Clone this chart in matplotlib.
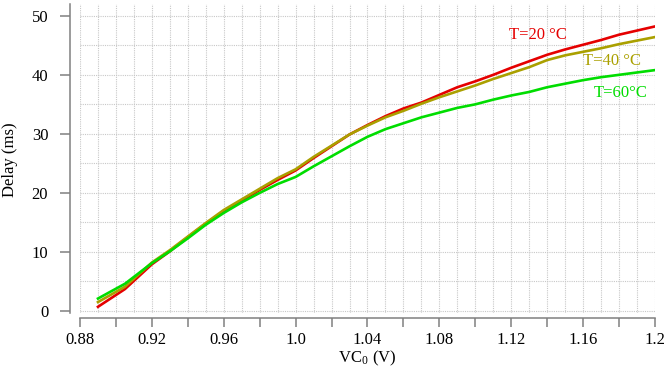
import matplotlib.pyplot as plt
import numpy as np

plt.rcParams["font.family"] = ["Liberation Serif", "DejaVu Serif"]
plt.rcParams["mathtext.fontset"] = "stix"

# VC0 (V)
vc0 = [0.89, 0.905, 0.92, 0.93, 0.94, 0.95, 0.96, 0.97, 0.98, 0.99, 1.00,
       1.01, 1.02, 1.03, 1.04, 1.05, 1.06, 1.07, 1.08, 1.09, 1.10,
       1.11, 1.12, 1.13, 1.14, 1.15, 1.16, 1.17, 1.18, 1.19, 1.20]

# Delay (ms)
delay_20 = [0.7, 3.7, 7.9, 10.1, 12.5, 14.8, 16.9, 18.7, 20.5, 22.2, 23.8,
            25.9, 27.9, 29.9, 31.5, 33.0, 34.3, 35.3, 36.6, 37.9, 38.9,
            40.0, 41.2, 42.3, 43.4, 44.3, 45.1, 45.9, 46.8, 47.5, 48.2]
delay_40 = [1.5, 4.1, 8.2, 10.3, 12.6, 14.9, 17.1, 18.9, 20.7, 22.5, 24.0,
            26.1, 28.0, 29.9, 31.4, 32.8, 33.9, 35.1, 36.2, 37.2, 38.2,
            39.3, 40.3, 41.3, 42.5, 43.3, 43.9, 44.5, 45.2, 45.8, 46.4]
delay_60 = [2.1, 4.6, 8.1, 10.1, 12.3, 14.6, 16.6, 18.4, 20.0, 21.5, 22.7,
            24.5, 26.2, 27.9, 29.5, 30.8, 31.8, 32.8, 33.6, 34.4, 35.0,
            35.8, 36.5, 37.1, 37.9, 38.5, 39.1, 39.6, 40.0, 40.4, 40.8]

labels = ["T=20 °C", "T=40 °C", "T=60°C"]
colors = ["#e50000", "#aaa000", "#00dd00"]
label_pos = [(1.1346, 46.7), (1.176, 42.3), (1.181, 36.9)]

xticks = [0.88, 0.90, 0.92, 0.94, 0.96, 0.98, 1.00, 1.02, 1.04,
          1.06, 1.08, 1.10, 1.12, 1.14, 1.16, 1.18, 1.20]
xticklabels = ["0.88", "", "0.92", "", "0.96", "", "1.0", "", "1.04",
               "", "1.08", "", "1.12", "", "1.16", "", "1.2"]
yticks = [0, 10, 20, 30, 40, 50]

fig = plt.figure(figsize=(6.64, 3.69), dpi=100)
ax = fig.add_axes([80 / 664, 56 / 369, 575 / 664, 309 / 369])

for y, c in zip([delay_20, delay_40, delay_60], colors):
    ax.plot(vc0, y, color=c, lw=1.9, solid_joinstyle="round", zorder=3)

for (tx, ty), lab, c in zip(label_pos, labels, colors):
    ax.text(tx, ty, lab, color=c, fontsize=12, ha="center", va="center")

ax.set_xlim(0.88, 1.2)
ax.set_ylim(-0.35, 52)

ax.set_xticks(xticks)
ax.set_xticklabels(xticklabels)
ax.set_xticks(np.arange(0.88, 1.2001, 0.01), minor=True)
ax.set_yticks(yticks)
ax.set_yticks(np.arange(0, 52, 5), minor=True)

ax.grid(which="both", color="#c8c8c8", linestyle=(0, (1, 1)), linewidth=0.8)
ax.tick_params(which="minor", length=0)
ax.tick_params(axis="y", which="major", length=7.2, width=1.1, color="#808080",
               pad=8.5, labelsize=12)
ax.tick_params(axis="x", which="major", length=6.5, width=1.1, color="#808080",
               pad=3.5, labelsize=12)
# keep the last label inside the canvas
ax.get_xticklabels()[-1].set_horizontalalignment("right")
ax.get_xticklabels()[-1].set_x(1.2)

for s in ["top", "right"]:
    ax.spines[s].set_visible(False)
ax.spines["left"].set_position(("outward", 7.2))
ax.spines["bottom"].set_position(("outward", 3.6))
for s in ["left", "bottom"]:
    ax.spines[s].set_color("#808080")
    ax.spines[s].set_linewidth(1.1)

ax.set_xlabel(r"VC$_{\mathregular{0}}$ (V)", fontsize=12)
ax.set_ylabel("Delay (ms)", fontsize=12)
ax.xaxis.set_label_coords(0.5, -0.115)
ax.yaxis.set_label_coords(-0.108, 0.495)

fig.savefig("out.png", dpi=100)
